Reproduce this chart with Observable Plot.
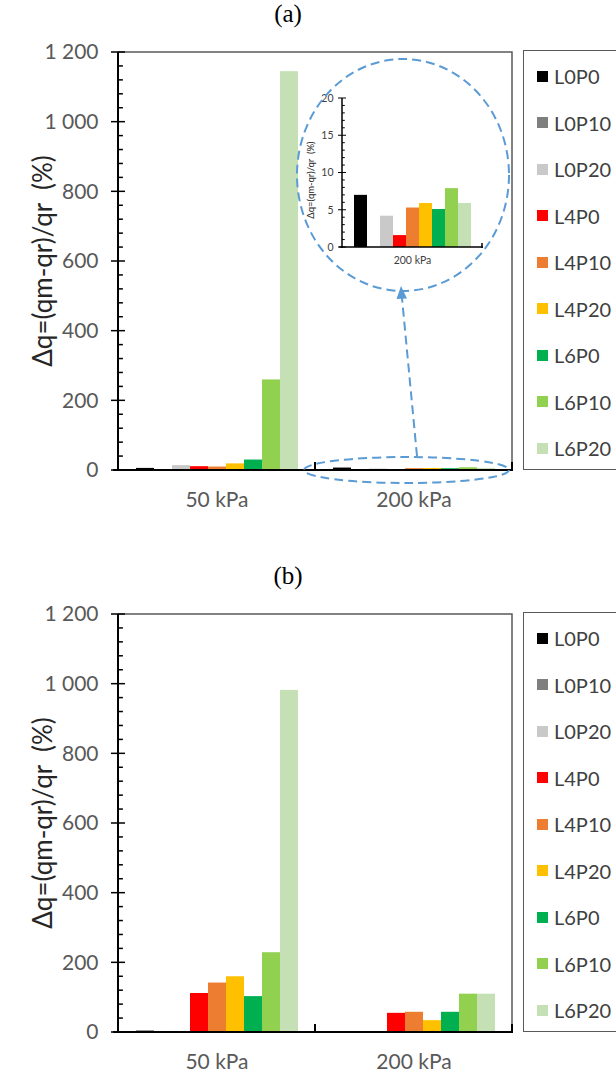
<!DOCTYPE html>
<html>
<head>
<meta charset="utf-8">
<script src="https://cdn.jsdelivr.net/npm/d3@7"></script>
<script src="https://cdn.jsdelivr.net/npm/@observablehq/plot@0.6"></script>
<style>
  body { margin: 0; background: #fff; }
  #wrap { position: relative; width: 616px; height: 1077px; overflow: hidden; font-family: Lato, "DejaVu Sans", sans-serif; }
  .panel { position: absolute; left: 0; width: 616px; height: 562px; }
  .ptitle { position: absolute; left: 0; width: 576px; top: 0px; text-align: center; font-family: "Liberation Serif", serif; font-size: 25px; color: #000; }
  .ylab { position: absolute; white-space: pre; transform: translate(-50%, -50%) rotate(-90deg); color: #262626; }
  .legend { position: absolute; left: 523px; top: 50px; width: 130px; height: 420px; border: 1.5px solid #595959; box-sizing: border-box; }
  .item { position: absolute; left: 13px; height: 24px; display: flex; align-items: center; font-size: 20px; color: #404040; }
  .sw { width: 11px; height: 11px; margin-right: 6px; }
  .abs { position: absolute; }
</style>
</head>
<body>
<div id="wrap"></div>
<script>
// Loading conditions and treatment groups
const pressures = ["50 kPa", "200 kPa"];
const series = ["L0P0", "L0P10", "L0P20", "L4P0", "L4P10", "L4P20", "L6P0", "L6P10", "L6P20"];
const colors = ["#000000", "#7f7f7f", "#c9c9c9", "#ff0000", "#ed7d31", "#ffc000", "#00b050", "#92d050", "#c5e0b4"];

// Axis ticks
const yTicks = [0, 200, 400, 600, 800, 1000, 1200];
const insetTicks = [0, 5, 10, 15, 20];
const yLabel = "Δq=(qm-qr)/qr  (%)";

// Panel (a): Δq (%) per group
const a50 = [6, 2, 14, 11, 10, 19, 30, 260, 1145];
const a200 = [7.0, 0, 4.2, 1.6, 5.3, 5.9, 5.1, 7.9, 5.9];

// Panel (b): Δq (%) per group
const b50 = [4, 1, 3, 112, 142, 160, 103, 229, 982];
const b200 = [0, 0, 0, 55, 58, 34, 58, 110, 110];

const fmt = d => d3.format(",")(d).replace(/,/g, "\u00a0");

function rows(v50, v200) {
  return [[pressures[0], v50], [pressures[1], v200]]
    .flatMap(([p, vs]) => series.map((s, i) => ({pressure: p, series: s, value: vs[i]})));
}

// Axis lines, crossing major ticks, inner minor ticks, plot frame and group separators
function decorate(chart, o) {
  const svg = d3.select(chart);
  const y = chart.scale("y");
  const fx = chart.scale("fx");
  const left = o.marginLeft, right = o.width - o.marginRight;
  const base = y.apply(0), top = y.apply(o.max);
  const g = svg.append("g").attr("fill", "none");
  if (o.frame) {
    g.append("path").attr("d", `M${left},${top}H${right}V${base}`)
      .attr("stroke", "#595959").attr("stroke-width", 1.5);
  }
  d3.range(0, o.max + 1e-9, o.minor).forEach(v => {
    const major = o.ticks.includes(v);
    g.append("line")
      .attr("x1", major ? left - o.tick : left).attr("x2", left + (major ? o.tick : o.tick * 0.7))
      .attr("y1", y.apply(v)).attr("y2", y.apply(v))
      .attr("stroke", "#000").attr("stroke-width", o.tickWidth);
  });
  g.append("line").attr("x1", left).attr("x2", left).attr("y1", top).attr("y2", base + 1)
    .attr("stroke", "#000").attr("stroke-width", o.axisWidth);
  g.append("line").attr("x1", left - o.tick * 0.7).attr("x2", right + 1).attr("y1", base).attr("y2", base)
    .attr("stroke", "#000").attr("stroke-width", o.axisWidth);
  const edges = fx.domain.slice(1).map(p => fx.apply(p)).concat([right]);
  edges.forEach(x => {
    g.append("line").attr("x1", x).attr("x2", x).attr("y1", base - o.sep).attr("y2", base + 1)
      .attr("stroke", "#000").attr("stroke-width", o.axisWidth);
  });
}

function mainChart(data) {
  const o = {width: 520, height: 520, marginLeft: 118, marginRight: 8, marginTop: 52, marginBottom: 50,
             max: 1200, ticks: yTicks, minor: 40, tick: 7, tickWidth: 1.5, axisWidth: 2, sep: 8, frame: true};
  const chart = Plot.plot({
    width: o.width, height: o.height,
    marginLeft: o.marginLeft, marginRight: o.marginRight, marginTop: o.marginTop, marginBottom: o.marginBottom,
    style: {fontFamily: "Lato, sans-serif", fontSize: "21px", color: "#595959", background: "transparent", overflow: "visible"},
    fx: {domain: pressures, padding: 0, label: null, tickSize: 0, tickPadding: 22},
    x: {domain: series, axis: null, paddingInner: 0, paddingOuter: 0.78},
    y: {domain: [0, o.max], ticks: yTicks, tickFormat: fmt, tickSize: 0, tickPadding: 20, label: null},
    color: {domain: series, range: colors},
    marks: [
      Plot.barY(data, {fx: "pressure", x: "series", y: "value", fill: "series"})
    ]
  });
  decorate(chart, o);
  return chart;
}

function insetChart(data) {
  const o = {width: 190, height: 192, marginLeft: 42, marginRight: 8, marginTop: 18, marginBottom: 25,
             max: 20, ticks: insetTicks, minor: 1, tick: 4, tickWidth: 1, axisWidth: 1.5, sep: 4, frame: false};
  const chart = Plot.plot({
    width: o.width, height: o.height,
    marginLeft: o.marginLeft, marginRight: o.marginRight, marginTop: o.marginTop, marginBottom: o.marginBottom,
    style: {fontFamily: "Lato, sans-serif", fontSize: "10.5px", color: "#404040", background: "transparent", overflow: "visible"},
    fx: {domain: [pressures[1]], padding: 0, label: null, tickSize: 0, tickPadding: 9},
    x: {domain: series, axis: null, paddingInner: 0, paddingOuter: 0.8},
    y: {domain: [0, o.max], ticks: insetTicks, tickFormat: fmt, tickSize: 0, tickPadding: 9, label: null},
    color: {domain: series, range: colors},
    marks: [
      Plot.barY(data, {fx: "pressure", x: "series", y: "value", fill: "series"})
    ]
  });
  decorate(chart, o);
  return chart;
}

function legend(panel) {
  const box = document.createElement("div");
  box.className = "legend";
  series.forEach((s, i) => {
    const it = document.createElement("div");
    it.className = "item";
    it.style.top = (25 + 46.5 * i - 12) + "px";
    const sw = document.createElement("span");
    sw.className = "sw";
    sw.style.background = colors[i];
    it.appendChild(sw);
    it.appendChild(document.createTextNode(s));
    box.appendChild(it);
  });
  panel.appendChild(box);
}

function yTitle(panel, text, x, y, size) {
  const d = document.createElement("div");
  d.className = "ylab";
  d.style.left = x + "px";
  d.style.top = y + "px";
  d.style.fontSize = size + "px";
  d.textContent = text;
  panel.appendChild(d);
}

const wrap = document.getElementById("wrap");
const panels = [
  {title: "(a)", data: rows(a50, a200)},
  {title: "(b)", data: rows(b50, b200)}
];

panels.forEach((p, k) => {
  const panel = document.createElement("div");
  panel.className = "panel";
  panel.style.top = (k * 562) + "px";
  wrap.appendChild(panel);

  const t = document.createElement("div");
  t.className = "ptitle";
  t.textContent = p.title;
  panel.appendChild(t);

  const chart = mainChart(p.data);
  chart.classList.add("abs");
  chart.style.left = "0px";
  chart.style.top = "0px";
  panel.appendChild(chart);

  yTitle(panel, yLabel, 42, 261, 26);
  legend(panel);

  if (k === 0) {
    // Zoomed view of the 200 kPa group
    const insetData = p.data.filter(d => d.pressure === pressures[1]);
    const inset = insetChart(insetData);
    inset.classList.add("abs");
    inset.style.left = "300px";
    inset.style.top = "80px";
    panel.appendChild(inset);
    yTitle(panel, yLabel, 310, 180, 9.5);

    // Callout: small ellipse on the 200 kPa group, arrow to the enlarged view
    const fx = chart.scale("fx"), y = chart.scale("y");
    const bw = fx.bandwidth;
    const cx = fx.apply(pressures[1]) + bw / 2;
    const cy = y.apply(0);
    const ov = d3.create("svg").attr("width", 616).attr("height", 562)
      .attr("class", "abs").style("left", "0px").style("top", "0px").style("pointer-events", "none");
    const blue = "#5b9bd5";
    ov.append("ellipse").attr("cx", cx - 7).attr("cy", cy).attr("rx", bw / 2 + 4).attr("ry", 13)
      .attr("fill", "none").attr("stroke", blue).attr("stroke-width", 2).attr("stroke-dasharray", "9,5");
    ov.append("ellipse").attr("cx", 403).attr("cy", 175).attr("rx", 106).attr("ry", 116)
      .attr("fill", "none").attr("stroke", blue).attr("stroke-width", 2).attr("stroke-dasharray", "9,5");
    ov.append("line").attr("x1", 417).attr("y1", cy - 14).attr("x2", 402).attr("y2", 298)
      .attr("stroke", blue).attr("stroke-width", 2).attr("stroke-dasharray", "9,5");
    ov.append("path").attr("d", "M401,286 L396.5,299 L407,298.5 Z").attr("fill", blue);
    panel.appendChild(ov.node());
  }
});
</script>
</body>
</html>
